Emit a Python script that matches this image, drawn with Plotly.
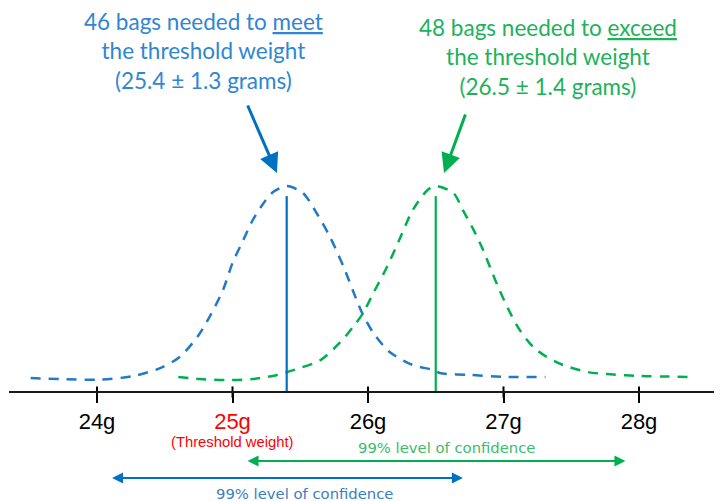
import plotly.graph_objects as go

# ---------------- data ----------------
bags_needed = [46, 48]
bag_means = [25.4, 26.5]          # grams
bag_ci99 = [1.3, 1.4]             # +/- grams (99% level of confidence)
threshold = 25

blue_x = [23.51, 23.73, 24.02, 24.27, 24.47, 24.61, 24.74, 24.83, 24.93, 25.00,
          25.08, 25.15, 25.23, 25.30, 25.40, 25.52, 25.62, 25.72, 25.82, 25.92,
          25.96, 26.04, 26.16, 26.33, 26.48, 26.53, 26.75, 27.03, 27.31]
blue_y = [6.8, 6.3, 6.0, 7.8, 11.7, 17.0, 26.7, 36.4, 49.5, 62.6,
          73.8, 83.5, 91.7, 97.1, 100.0, 96.6, 86.9, 75.2, 60.7, 44.0,
          37.9, 28.6, 19.4, 13.1, 10.7, 9.2, 8.3, 7.3, 7.3]

green_x = [24.60, 24.76, 24.96, 25.15, 25.33, 25.50, 25.65, 25.79, 25.89, 25.96,
           26.04, 26.14, 26.24, 26.33, 26.44, 26.50, 26.63, 26.70, 26.78, 26.85,
           26.90, 26.97, 27.05, 27.12, 27.22, 27.32, 27.44, 27.62, 27.76, 28.01,
           28.40]
green_y = [7.3, 6.3, 5.8, 6.3, 8.3, 11.7, 15.5, 23.8, 31.6, 37.9,
           48.1, 60.7, 75.2, 88.3, 98.1, 100.0, 96.6, 88.3, 78.6, 68.9,
           60.7, 49.5, 38.3, 30.1, 21.8, 17.0, 13.1, 9.7, 8.7, 7.8,
           7.3]

mean_line_top = [95.1, 95.1]

tick_vals = [24, 25, 26, 27, 28]
tick_text = ["24g", '<span style="color:#FF0000">25g</span>', "26g", "27g", "28g"]

# ---------------- styles ----------------
BLUE_CURVE = "#2279C6"
BLUE_LINE = "#0070C0"
BLUE_TEXT = "#2F86D2"
BLUE_CI_TEXT = "#3A7EC2"
GREEN_CURVE = "#00B050"
GREEN_LINE = "#00B050"
GREEN_TEXT = "#1DB25A"
GREEN_CI_TEXT = "#3DBB6A"

# the page body has an 8px margin, so the figure is 8px smaller than the window
W, H = 714, 493
X_RANGE = [23.3506, 28.6125]
Y_RANGE = [-52.91, 186.41]
AXIS_POS = (H - 384) / H

fig = go.Figure()

fig.add_trace(go.Scatter(
    x=blue_x, y=blue_y, mode="lines", hoverinfo="skip",
    line=dict(color=BLUE_CURVE, width=2.5, dash="10px,8px", shape="spline", smoothing=0.8)))
fig.add_trace(go.Scatter(
    x=green_x, y=green_y, mode="lines", hoverinfo="skip",
    line=dict(color=GREEN_CURVE, width=2.5, dash="10px,8px", shape="spline", smoothing=0.8)))

for m, top, col in zip(bag_means, mean_line_top, [BLUE_LINE, GREEN_LINE]):
    fig.add_trace(go.Scatter(x=[m, m], y=[0, top], mode="lines", hoverinfo="skip",
                             line=dict(color=col, width=2.2)))

# upper half of the tick marks (crossing the axis line)
fig.add_trace(go.Scatter(
    x=tick_vals, y=[0] * len(tick_vals), mode="markers", hoverinfo="skip", cliponaxis=False,
    marker=dict(symbol="line-ns", size=8, color="black", line=dict(width=2, color="black"))))

annotations = []

# headings (x, y, yshift in px)
heading_pos = [(24.786, 184.5, 6), (27.328, 184.5, 0)]
heading_col = [BLUE_TEXT, GREEN_TEXT]
verbs = ["meet", "exceed"]
for n, m, ci, (hx, hy, hs), col, verb in zip(bags_needed, bag_means, bag_ci99, heading_pos, heading_col, verbs):
    annotations.append(dict(
        x=hx, y=hy, yshift=hs, xref="x", yref="y", showarrow=False, yanchor="top",
        xanchor="center", align="center",
        text=f"{n} bags needed to <u>{verb}</u><br>the threshold weight<br>({m} \u00b1 {ci} grams)",
        font=dict(family="Lato", size=22.5, color=col)))

# pointer arrows to the peaks
pointer = [((25.107, 139.8), (25.328, 106.3), BLUE_LINE),
           ((26.723, 135.4), (26.561, 106.3), GREEN_LINE)]
for (tx, ty), (hx, hy), col in pointer:
    annotations.append(dict(
        x=hx, y=hy, ax=tx, ay=ty, xref="x", yref="y", axref="x", ayref="y",
        text="", showarrow=True, arrowhead=2, arrowsize=1.3, arrowwidth=3,
        arrowcolor=col, standoff=0))

# 99% confidence double arrows
ci_y = [-41.7, -33.5]
ci_col = [BLUE_LINE, GREEN_LINE]
for m, ci, yy, col in zip(bag_means, bag_ci99, ci_y, ci_col):
    annotations.append(dict(
        x=m + ci, y=yy, ax=m - ci, ay=yy, xref="x", yref="y", axref="x", ayref="y",
        text="", showarrow=True, arrowside="end+start", arrowhead=2, startarrowhead=2,
        arrowsize=1.1, startarrowsize=1.1, arrowwidth=2, arrowcolor=col,
        standoff=0, startstandoff=0))

ci_text_pos = [(25.528, -49.3), (26.576, -26.7)]
for (cx, cy), col in zip(ci_text_pos, [BLUE_CI_TEXT, GREEN_CI_TEXT]):
    annotations.append(dict(
        x=cx, y=cy, xref="x", yref="y", showarrow=False,
        text="99% level of confidence",
        font=dict(family="DejaVu Sans", size=14.8, color=col)))

annotations.append(dict(
    x=threshold, y=-24.3, xref="x", yref="y", showarrow=False,
    text="(Threshold weight)",
    font=dict(family="Liberation Sans", size=14.8, color="#FF0000")))

fig.update_layout(
    width=W, height=H,
    margin=dict(l=1, r=0, t=0, b=0),
    paper_bgcolor="white", plot_bgcolor="white",
    showlegend=False,
    annotations=annotations,
    xaxis=dict(
        range=X_RANGE, anchor="free", position=AXIS_POS,
        showline=True, linecolor="#1a1a1a", linewidth=1.6,
        ticks="outside", ticklen=10, tickwidth=2, tickcolor="black",
        tickvals=tick_vals, ticktext=tick_text,
        tickfont=dict(family="Liberation Sans, Arial", size=22, color="black"),
        showgrid=False, zeroline=False, fixedrange=True),
    yaxis=dict(range=Y_RANGE, visible=False, showgrid=False, zeroline=False, fixedrange=True),
)

fig.write_html("out.html")
